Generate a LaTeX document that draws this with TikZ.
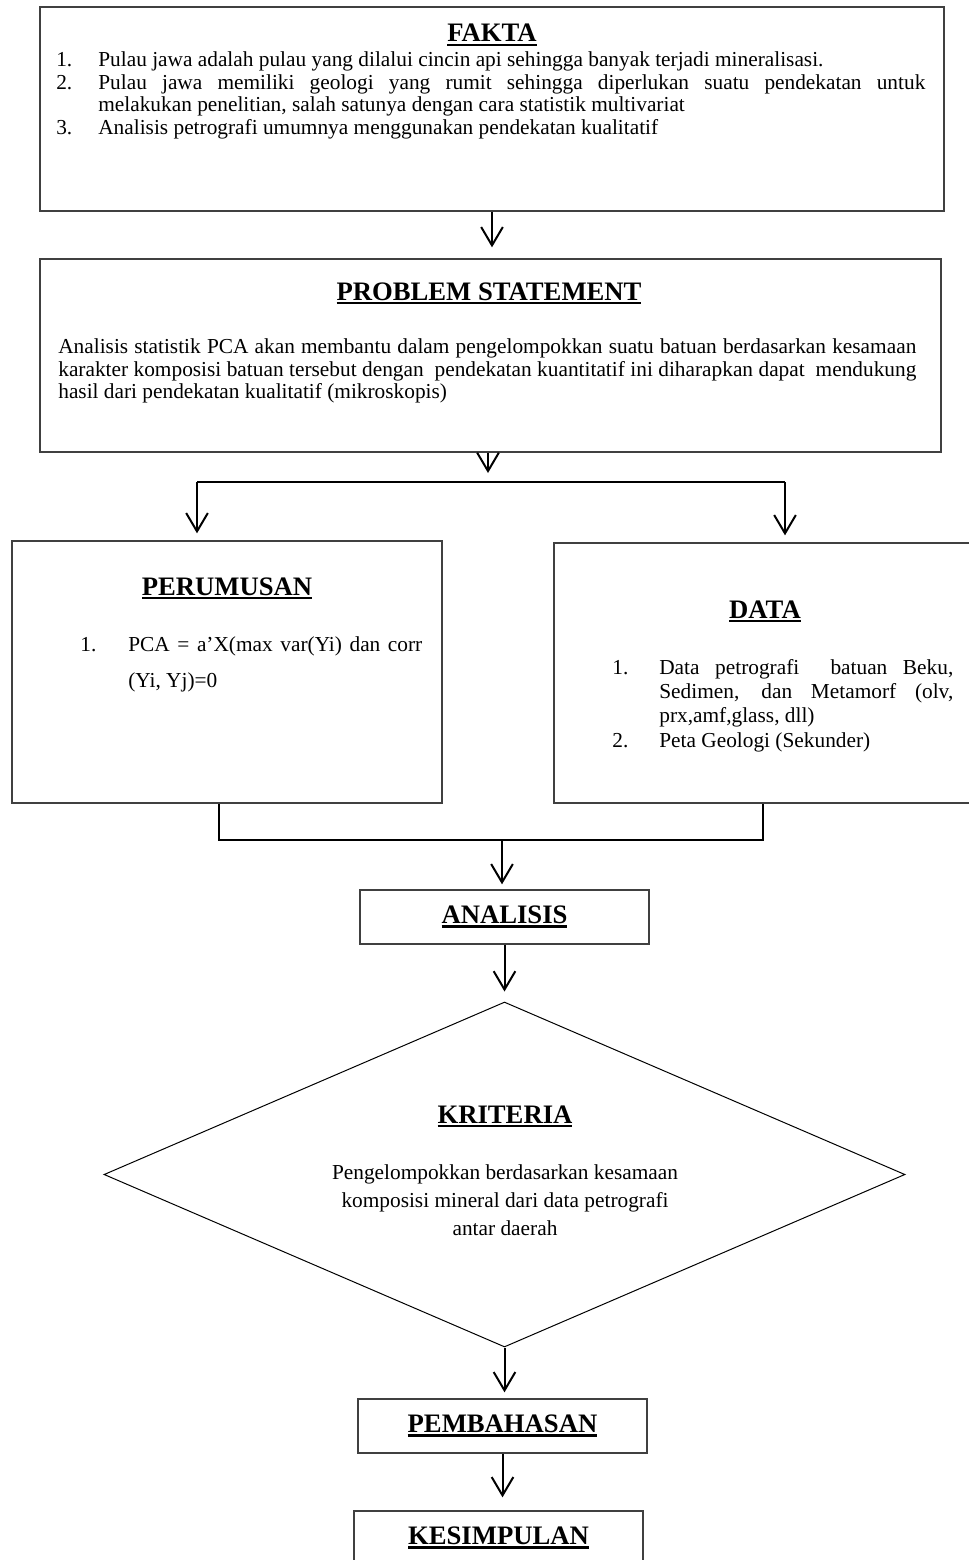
\documentclass[tikz,border=0pt]{standalone}
\usepackage{fontspec}
\setmainfont{Liberation Serif}
\usepackage{tikz}
\usetikzlibrary{arrows.meta,positioning,calc,fit,shapes.geometric}

% judul bergaris bawah, rata kiri-kanan
\newcommand{\judul}[1]{{\fontsize{16}{19}\selectfont\bfseries\setbox0\hbox{#1}\rlap{\rule[-2.6pt]{\wd0}{1.6pt}}\box0}}
\newcommand{\rata}[2]{\makebox[#1][s]{#2}}

\begin{document}
\begin{tikzpicture}[x=0.6pt,y=-0.6pt,
  kotak/.style={draw=black!75,line width=0.8pt,inner sep=0pt},
  garis/.style={line width=0.8pt},
  panah/.style={line width=1.2pt,-{Straight Barb[length=11pt,width=13pt]}},
  teks/.style={font=\fontsize{12.8}{15}\selectfont,inner sep=0pt,anchor=base west},
  tengah/.style={font=\fontsize{12.8}{15}\selectfont,inner sep=0pt,anchor=base}]
\useasboundingbox (0,0) rectangle (968,1560);

% Boxes
\node[kotak, fit={(40,7) (944,211)}] (fakta) {};
\node[kotak, fit={(40,259) (941,452)}] (masalah) {};
\node[kotak, fit={(12,541) (442,803)}] (rumus) {};
\node[kotak, fit={(554,543) (970,803)}] (data) {};
\node[kotak, minimum width=173.4pt, minimum height=32.4pt] (analisis) at (504.5,917) {\judul{ANALISIS}};
\node[draw, diamond, line width=0.6pt, minimum width=480.6pt, minimum height=207pt, inner sep=0pt] (kriteria) at (504.5,1174.5) {};
\node[kotak, minimum width=173.4pt, minimum height=32.4pt] (bahas) at (502.5,1426) {\judul{PEMBAHASAN}};
\node[kotak, minimum width=173.4pt, minimum height=32.4pt] (simpul) at (498.5,1538) {\judul{KESIMPULAN}};

% FAKTA
\node[anchor=base, inner sep=0pt] (jFakta) at (492,42) {\judul{FAKTA}};
\node[teks] (f1) at (56,67) {1.};
\node[teks] (f1a) at (98,67) {Pulau jawa adalah pulau yang dilalui cincin api sehingga banyak terjadi mineralisasi.};
\node[teks] (f2) at (56,90) {2.};
\node[teks] (f2a) at (98,90) {\rata{496.2pt}{Pulau jawa memiliki geologi yang rumit sehingga diperlukan suatu pendekatan untuk}};
\node[teks] (f2b) at (98,112) {melakukan penelitian, salah satunya dengan cara statistik multivariat};
\node[teks] (f3) at (56,135) {3.};
\node[teks] (f3a) at (98,135) {Analisis petrografi umumnya menggunakan pendekatan kualitatif};

% PROBLEM STATEMENT
\node[anchor=base, inner sep=0pt] (jMasalah) at (489,300) {\judul{PROBLEM STATEMENT}};
\node[teks] (m1) at (58,354) {\rata{514.8pt}{Analisis statistik PCA akan membantu dalam pengelompokkan suatu batuan berdasarkan kesamaan}};
\node[teks] (m2) at (58,376) {\rata{514.8pt}{karakter komposisi batuan tersebut dengan\ \ pendekatan kuantitatif ini diharapkan dapat\ \ mendukung}};
\node[teks] (m3) at (58,398) {hasil dari pendekatan kualitatif (mikroskopis)};

% PERUMUSAN
\node[anchor=base, inner sep=0pt] (jRumus) at (227,595) {\judul{PERUMUSAN}};
\node[teks] (r1) at (80,651) {1.};
\node[teks] (r1a) at (128,651) {\rata{176.4pt}{PCA = a’X(max var(Yi) dan corr}};
\node[teks] (r1b) at (128,687) {(Yi, Yj)=0};

% DATA
\node[anchor=base, inner sep=0pt] (jData) at (765,618) {\judul{DATA}};
\node[teks] (d1) at (612,674) {1.};
\node[teks] (d1a) at (659,674) {\rata{176.4pt}{Data petrografi\ \ batuan Beku,}};
\node[teks] (d1b) at (659,698) {\rata{176.4pt}{Sedimen, dan Metamorf (olv,}};
\node[teks] (d1c) at (659,722) {prx,amf,glass, dll)};
\node[teks] (d2) at (612,747) {2.};
\node[teks] (d2a) at (659,747) {Peta Geologi (Sekunder)};

% KRITERIA
\node[anchor=base, inner sep=0pt] (jKriteria) at (505,1123) {\judul{KRITERIA}};
\node[tengah] (k1) at (505,1179) {Pengelompokkan berdasarkan kesamaan};
\node[tengah] (k2) at (505,1207) {komposisi mineral dari data petrografi};
\node[tengah] (k3) at (505,1235) {antar daerah};

% Branch and merge points
\coordinate (cabang) at (488,482);
\coordinate (cabangL) at (197,482);
\coordinate (cabangR) at (785,482);
\coordinate (gabungL) at (219,840);
\coordinate (gabungR) at (763,840);
\coordinate (gabung) at (502,840);

% Draw connectors
\draw[panah, shorten >=6.6pt] (fakta.south) -- (fakta.south |- masalah.north);
\draw[panah, shorten >=5.4pt] (masalah.south -| cabang) -- (cabang);
\draw[garis] (cabangL) -- (cabangR);
\draw[panah, shorten >=4.2pt] (cabangL) -- (cabangL |- rumus.north);
\draw[panah, shorten >=4.2pt] (cabangR) -- (cabangR |- data.north);
\draw[garis] (rumus.south -| gabungL) -- (gabungL) -- (gabungR) -- (data.south -| gabungR);
\draw[panah, shorten >=3pt] (gabung) -- (gabung |- analisis.north);
\draw[panah, shorten >=6pt] (analisis.south) -- (kriteria.north);
\draw[panah, shorten >=3.6pt] (kriteria.south) -- (kriteria.south |- bahas.north);
\draw[panah, shorten >=7.8pt] (bahas.south) -- (bahas.south |- simpul.north);

\end{tikzpicture}
\end{document}
